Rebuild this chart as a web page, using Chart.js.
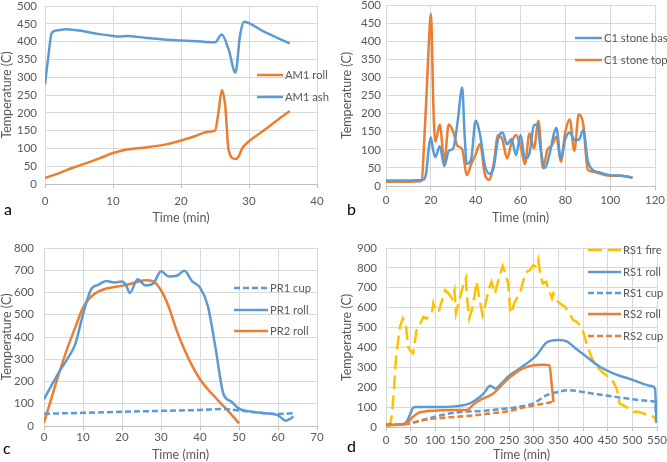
<!DOCTYPE html>
<html>
<head>
<meta charset="utf-8">
<script src="https://cdn.jsdelivr.net/npm/chart.js@4"></script>
<style>
  body { margin: 0; width: 667px; height: 462px; overflow: hidden; background: #fff; position: relative; font-family: Lato, sans-serif; }
  canvas { position: absolute; }
  .lg { position: absolute; height: 16px; line-height: 16px; font-size: 11.2px; color: #595959; white-space: nowrap; display: flex; align-items: center; }
  .lg svg { margin-right: 2px; }
  .tag { position: absolute; font-size: 16px; color: #000; line-height: 16px; }
</style>
</head>
<body>
<canvas id="ca" width="333" height="231" style="left:0;top:0"></canvas>
<canvas id="cb" width="332" height="231" style="left:335px;top:0"></canvas>
<canvas id="cc" width="333" height="231" style="left:0;top:231px"></canvas>
<canvas id="cd" width="332" height="231" style="left:335px;top:231px"></canvas>

<script>
// ── Colours ───────────────────────────────────────────────
const GRID = "#d9d9d9", AXIS = "#bfbfbf", TXT = "#595959";
const BLUE = "#5b9bd5", ORANGE = "#ed7d31", GOLD = "#ffc000";

// ── Panel a: AM1 ─────────────────────────────────────────
const am1AshT  = [0, 0.5, 1, 2, 3, 5, 8, 10, 11, 12, 15, 18, 20, 23, 25, 26, 27, 28, 28.7, 29.3, 30, 32, 34, 36];
const am1Ash   = [280, 360, 425, 432, 435, 431, 421, 416, 414, 416, 410, 405, 403, 400, 398, 420, 378, 313, 420, 456, 452, 430, 412, 395];
const am1RollT = [0, 2, 4, 6, 8, 10, 12, 15, 18, 20, 22, 24, 25, 25.5, 26, 26.5, 27, 28, 28.5, 29, 30, 32, 34, 36];
const am1Roll  = [17, 30, 45, 58, 72, 87, 97, 103, 112, 122, 134, 147, 150, 200, 263, 220, 95, 70, 78, 100, 120, 148, 177, 205];

// ── Panel b: C1 stone ────────────────────────────────────
const c1BaseT = [0, 5, 10, 15, 17, 18, 19, 20, 21, 22, 24, 26, 28, 30, 32, 34, 35, 36, 38, 40, 42, 44, 46, 48, 50, 52, 54, 56, 58, 60, 62, 64, 66, 67.5, 69, 71, 73, 75, 76, 78, 80, 82, 84, 86, 88, 90, 92, 95, 100, 105, 110];
const c1Base  = [15, 15, 15, 16, 18, 40, 100, 135, 100, 80, 110, 55, 97, 104, 180, 272, 150, 61, 75, 180, 140, 60, 34, 50, 130, 148, 115, 130, 85, 141, 75, 90, 168, 170, 100, 50, 90, 147, 160, 75, 130, 148, 128, 128, 155, 70, 45, 38, 30, 28, 23];
const c1TopT  = [0, 5, 10, 15, 16, 17, 18, 19, 20, 20.5, 21, 22, 24, 26, 28, 30, 32, 34, 36, 38, 40, 42, 44, 46, 48, 50, 52, 54, 56, 58, 60, 62, 64, 66, 68, 70, 72, 74, 76, 78, 80, 82, 84, 86, 88, 90, 92, 95, 100, 105, 107, 110];
const c1Top   = [12, 12, 12, 13, 16, 120, 240, 380, 475, 400, 250, 122, 170, 68, 170, 150, 110, 102, 30, 60, 88, 116, 35, 17, 60, 141, 127, 76, 120, 141, 110, 61, 145, 104, 180, 49, 100, 112, 136, 67, 150, 184, 97, 198, 170, 45, 40, 35, 28, 28, 27, 23];

// ── Panel c: PR ──────────────────────────────────────────
const pr1CupT  = [0, 10, 20, 30, 40, 46, 50, 55, 60, 64];
const pr1Cup   = [55, 59, 64, 68, 72, 76, 70, 60, 54, 57];
const pr1RollT = [0, 2, 4, 6, 8, 10, 12, 14, 16, 18, 20, 21, 22, 24, 26, 28, 30, 32, 34, 36, 38, 40, 42, 44, 46, 48, 50, 52, 56, 60, 62, 64];
const pr1Roll  = [120, 185, 247, 302, 367, 502, 612, 635, 652, 645, 650, 635, 598, 659, 632, 640, 696, 672, 675, 698, 650, 622, 540, 349, 145, 110, 78, 68, 58, 48, 24, 42];
const pr2RollT = [0, 2, 4, 6, 8, 10, 12, 14, 16, 18, 20, 22, 24, 26, 28, 30, 32, 34, 36, 38, 40, 42, 44, 46, 48, 50];
const pr2Roll  = [15, 130, 245, 350, 442, 532, 580, 605, 618, 625, 630, 638, 648, 655, 650, 610, 535, 430, 344, 270, 210, 165, 127, 90, 52, 12];

// ── Panel d: RS ──────────────────────────────────────────
const rs1FireT = [0, 8, 12, 16, 20, 24, 28, 34, 40, 45, 50, 55, 62, 68, 76, 82, 88, 93, 96, 101, 108, 114, 120, 127, 134, 139, 142, 149, 156, 162, 165, 169, 176, 184, 189, 196, 203, 208, 214, 221, 228, 232, 237, 242, 248, 252, 255, 260, 266, 272, 279, 286, 292, 299, 306, 309, 313, 318, 325, 332, 337, 340, 346, 353, 363, 370, 380, 387, 393, 400, 407, 418, 428, 438, 451, 461, 468, 472, 474, 481, 492, 502, 512, 522, 529, 539, 546, 549];
const rs1Fire  = [5, 10, 60, 180, 337, 420, 500, 546, 520, 403, 380, 370, 487, 512, 554, 545, 560, 571, 621, 579, 588, 640, 688, 671, 646, 688, 573, 640, 707, 748, 636, 546, 605, 730, 654, 563, 630, 688, 730, 671, 738, 771, 809, 771, 722, 588, 571, 620, 650, 672, 739, 781, 789, 814, 805, 839, 772, 722, 730, 680, 646, 672, 638, 621, 605, 579, 538, 529, 512, 479, 420, 345, 303, 278, 253, 227, 194, 152, 119, 110, 94, 77, 77, 69, 60, 60, 44, 20];
const rs1RollT = [0, 30, 42, 50, 55, 60, 100, 143, 170, 191, 201, 211, 217, 222, 235, 250, 272, 306, 326, 350, 367, 385, 407, 434, 461, 502, 539, 546, 549];
const rs1Roll  = [10, 12, 27, 70, 98, 100, 100, 105, 119, 152, 177, 208, 200, 194, 220, 258, 295, 362, 425, 438, 430, 395, 353, 303, 270, 236, 206, 192, 20];
const rs1CupT  = [0, 40, 55, 89, 123, 150, 200, 240, 271, 299, 326, 350, 373, 407, 461, 502, 539, 546, 549];
const rs1Cup   = [12, 15, 22, 45, 65, 75, 82, 92, 102, 119, 160, 177, 185, 173, 153, 139, 130, 128, 20];
const rs2RollT = [0, 30, 42, 55, 65, 76, 100, 123, 164, 176, 191, 218, 245, 271, 290, 305, 320, 332, 336, 340];
const rs2Roll  = [10, 12, 20, 52, 70, 77, 82, 85, 85, 110, 136, 169, 236, 286, 305, 312, 313, 310, 220, 125];
const rs2CupT  = [0, 40, 76, 123, 164, 211, 250, 272, 306, 332, 340];
const rs2Cup   = [12, 15, 35, 48, 55, 68, 80, 94, 111, 123, 127];

// ── Helpers ──────────────────────────────────────────────
const pts = (xs, ys) => xs.map((x, i) => ({ x, y: ys[i] }));

function series(label, xs, ys, color, dash, smooth = true) {
  return {
    label, data: pts(xs, ys), borderColor: color, borderWidth: 2.5, borderDash: dash || [],
    pointRadius: 0, fill: false,
    cubicInterpolationMode: smooth ? "monotone" : "default", tension: smooth ? 0.4 : 0,
  };
}

const tickFont  = { family: "Lato", size: 11.5 };
const titleFont = { family: "Lato", size: 12.5, lineHeight: 1 };

function panel(id, g, datasets) {
  new Chart(document.getElementById(id), {
    type: "line",
    data: { datasets },
    options: {
      responsive: false, animation: false, events: [],
      layout: { padding: { top: g.top, right: g.right, left: 0, bottom: 0 } },
      plugins: { legend: { display: false }, tooltip: { enabled: false } },
      scales: {
        x: {
          type: "linear", min: 0, max: g.xMax,
          // fixed axis box, no extra padding so the plot lands where the original has it
          afterFit: (s) => { s.height = g.xh; s.paddingLeft = 0; s.paddingRight = 0; },
          ticks: { stepSize: g.xStep, color: TXT, font: tickFont, padding: g.xPad, maxRotation: 0, autoSkip: false },
          grid: { color: GRID, tickLength: 4, tickColor: AXIS },
          border: { color: AXIS },
          title: { display: true, text: "Time (min)", color: TXT, font: titleFont, padding: { top: 0, bottom: g.xtPad } },
        },
        y: {
          min: 0, max: g.yMax,
          afterFit: (s) => { s.width = g.yw; s.paddingTop = 0; s.paddingBottom = 0; },
          ticks: { stepSize: g.yStep, color: TXT, font: tickFont, padding: g.yPad },
          grid: { color: GRID, drawTicks: false },
          border: { display: false },
          title: { display: true, text: "Temperature (C)", color: TXT, font: titleFont, padding: { top: g.ytPad, bottom: 0 } },
        },
      },
    },
  });
}

function legend(x, y, color, dash, label, w) {
  const d = document.createElement("div");
  d.className = "lg";
  d.style.left = x + "px";
  d.style.top = (y - 8) + "px";
  d.innerHTML = `<svg width="${w}" height="6"><line x1="0" y1="3" x2="${w}" y2="3" stroke="${color}" stroke-width="2.5" stroke-dasharray="${dash || "none"}"/></svg><span>${label}</span>`;
  document.body.appendChild(d);
}

function tag(x, y, t) {
  const d = document.createElement("div");
  d.className = "tag";
  d.style.left = x + "px";
  d.style.top = y + "px";
  d.textContent = t;
  document.body.appendChild(d);
}

// ── Charts ───────────────────────────────────────────────
panel("ca", { top: 6, right: 16, xh: 47, yw: 45, xMax: 40, xStep: 10, yMax: 500, yStep: 50, xPad: 6, xtPad: 7, yPad: 8, ytPad: 1 }, [
  series("AM1 roll", am1RollT, am1Roll, ORANGE),
  series("AM1 ash", am1AshT, am1Ash, BLUE),
]);

panel("cb", { top: 5, right: 12, xh: 45, yw: 51, xMax: 120, xStep: 20, yMax: 500, yStep: 50, xPad: 3, xtPad: 7, yPad: 5, ytPad: 6 }, [
  series("C1 stone base", c1BaseT, c1Base, BLUE),
  series("C1 stone top", c1TopT, c1Top, ORANGE),
]);

panel("cc", { top: 17, right: 16, xh: 36, yw: 44, xMax: 70, xStep: 10, yMax: 800, yStep: 100, xPad: 0, xtPad: 1, yPad: 10, ytPad: 1 }, [
  series("PR1 cup", pr1CupT, pr1Cup, BLUE, [6, 3]),
  series("PR1 roll", pr1RollT, pr1Roll, BLUE),
  series("PR2 roll", pr2RollT, pr2Roll, ORANGE),
]);

panel("cd", { top: 17, right: 10, xh: 35, yw: 51, xMax: 550, xStep: 50, yMax: 900, yStep: 100, xPad: 2, xtPad: 1, yPad: 9, ytPad: 6 }, [
  series("RS2 cup", rs2CupT, rs2Cup, ORANGE, [6, 3]),
  series("RS2 roll", rs2RollT, rs2Roll, ORANGE),
  series("RS1 cup", rs1CupT, rs1Cup, BLUE, [6, 3]),
  series("RS1 roll", rs1RollT, rs1Roll, BLUE),
  series("RS1 fire", rs1FireT, rs1Fire, GOLD, [14, 6], false),
]);

// ── Legends and panel letters ────────────────────────────
legend(257, 75, ORANGE, null, "AM1 roll", 26);
legend(257, 97, BLUE, null, "AM1 ash", 26);

legend(575, 38, BLUE, null, "C1 stone base", 27);
legend(575, 60, ORANGE, null, "C1 stone top", 27);

legend(234, 288, BLUE, "6 3", "PR1 cup", 34);
legend(234, 310, BLUE, null, "PR1 roll", 34);
legend(234, 331, ORANGE, null, "PR2 roll", 34);

legend(588, 250, GOLD, "14 6", "RS1 fire", 33);
legend(588, 272, BLUE, null, "RS1 roll", 33);
legend(588, 293, BLUE, "6 3", "RS1 cup", 33);
legend(588, 314, ORANGE, null, "RS2 roll", 33);
legend(588, 336, ORANGE, "6 3", "RS2 cup", 33);

tag(4, 201, "a");
tag(347, 201, "b");
tag(3, 440, "c");
tag(347, 438, "d");
</script>
</body>
</html>
